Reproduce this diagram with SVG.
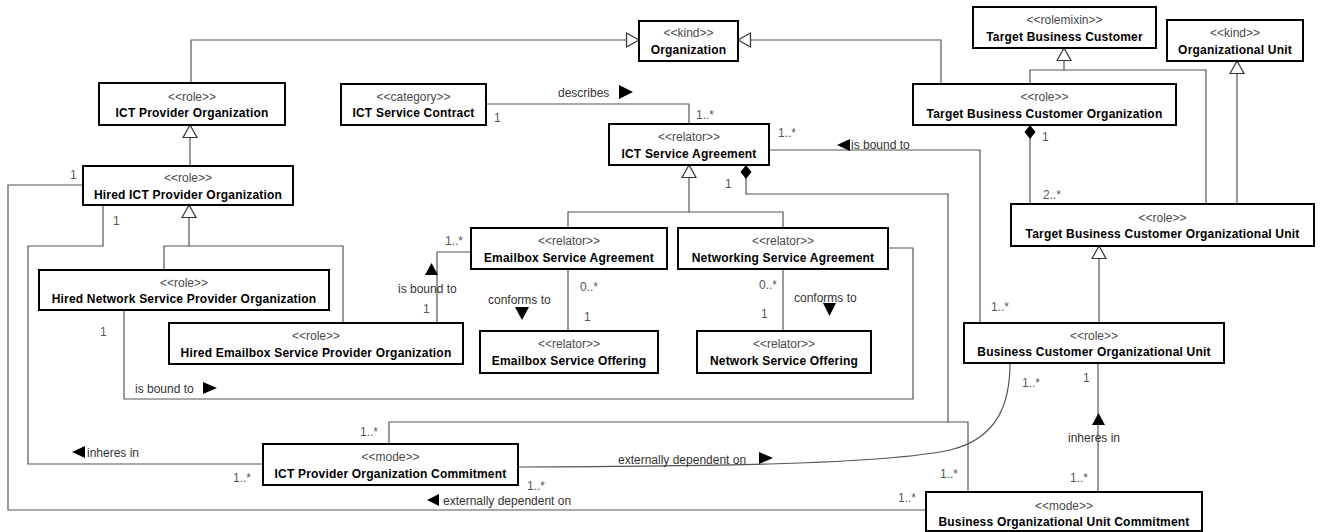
<svg xmlns="http://www.w3.org/2000/svg" width="1322" height="532" viewBox="0 0 1322 532">
  <style>
    .box { fill: #ffffff; stroke: #000000; stroke-width: 2; }
    .st { font-family: "Liberation Sans", Arial, sans-serif; font-size: 12px; fill: #4a4a4a; text-anchor: middle; }
    .nm { font-family: "Liberation Sans", Arial, sans-serif; font-size: 12px; font-weight: bold; fill: #000000; text-anchor: middle; letter-spacing: 0.2px; }
    .ln { fill: none; stroke: #555555; stroke-width: 1.2; }
    .lbl { font-family: "Liberation Sans", Arial, sans-serif; font-size: 12px; fill: #333333; }
    .mul { font-family: "Liberation Sans", Arial, sans-serif; font-size: 12px; fill: #555555; }
    .dir { fill: #000000; }
  </style>
  <defs>
    <marker id="gen" markerUnits="userSpaceOnUse" markerWidth="14" markerHeight="16" refX="12.5" refY="7" orient="auto" overflow="visible">
      <path d="M0,0 L12.5,7 L0,14 z" fill="#ffffff" stroke="#333333" stroke-width="1.2"/>
    </marker>
    <marker id="comp" markerUnits="userSpaceOnUse" markerWidth="16" markerHeight="12" refX="0" refY="5.5" orient="auto" overflow="visible">
      <path d="M0,5.5 L7,0 L14,5.5 L7,11 z" fill="#000000"/>
    </marker>
  </defs>

  <rect width="1322" height="532" fill="#ffffff"/>

  <!-- connectors -->
  <g id="connectors">
    <!-- generalizations -->
    <path class="ln" d="M191,83 V40 H639" marker-end="url(#gen)"/>
    <path class="ln" d="M941,84 V40 H738" marker-end="url(#gen)"/>
    <path class="ln" d="M190,166 V125" marker-end="url(#gen)"/>
    <path class="ln" d="M164,270 V246 H343 V323"/>
    <path class="ln" d="M189,246 V205" marker-end="url(#gen)"/>
    <path class="ln" d="M568,228 V212 H783 V228"/>
    <path class="ln" d="M689,212 V165" marker-end="url(#gen)"/>
    <path class="ln" d="M1030,84 V70 H1206 V204"/>
    <path class="ln" d="M1064,70 V48" marker-end="url(#gen)"/>
    <path class="ln" d="M1237,204 V61" marker-end="url(#gen)"/>
    <path class="ln" d="M1099,323 V246" marker-end="url(#gen)"/>

    <!-- compositions -->
    <path class="ln" d="M746,165 V194 H948 V422 H389 V444" marker-start="url(#comp)"/>
    <path class="ln" d="M948,422 H968 V492"/>
    <path class="ln" d="M1030,125 V204" marker-start="url(#comp)"/>

    <!-- associations -->
    <path class="ln" d="M486,104 H689 V124"/>
    <path class="ln" d="M769,150 H980 V323"/>
    <path class="ln" d="M471,252 H437 V323"/>
    <path class="ln" d="M568,269 V331"/>
    <path class="ln" d="M783,269 V331"/>
    <path class="ln" d="M888,248 H913 V399 H124 V310"/>
    <path class="ln" d="M103,205 V246 H28 V464 H263"/>
    <path class="ln" d="M83,185 H8 V510 H926"/>
    <path class="ln" d="M518,467 C700,466 880,465 950,450 C1000,438 1010,400 1010,363"/>
    <path class="ln" d="M1098,492 V363"/>

    <!-- reading-direction arrows -->
    <path class="dir" d="M619,85 L633,92 L619,99 z"/>
    <path class="dir" d="M850,139 L837,145 L850,151 z"/>
    <path class="dir" d="M431.5,263 L425,275 L438,275 z"/>
    <path class="dir" d="M515,307 L529,307 L522,320 z"/>
    <path class="dir" d="M823,303 L836,303 L829.5,316 z"/>
    <path class="dir" d="M203,382 L217,388 L203,394 z"/>
    <path class="dir" d="M85,446 L72,452 L85,458 z"/>
    <path class="dir" d="M759,452 L773,458 L759,464 z"/>
    <path class="dir" d="M439,494 L427,500 L439,506 z"/>
    <path class="dir" d="M1098.5,413 L1092,425 L1105,425 z"/>

    <!-- association names -->
    <text class="lbl" x="558" y="97">describes</text>
    <text class="lbl" x="851" y="149">is bound to</text>
    <text class="lbl" x="398" y="293">is bound to</text>
    <text class="lbl" x="488" y="304">conforms to</text>
    <text class="lbl" x="794" y="302">conforms to</text>
    <text class="lbl" x="135" y="393">is bound to</text>
    <text class="lbl" x="87" y="457">inheres in</text>
    <text class="lbl" x="618" y="464">externally dependent on</text>
    <text class="lbl" x="443" y="505">externally dependent on</text>
    <text class="lbl" x="1068" y="442">inheres in</text>

    <!-- multiplicities -->
    <text class="mul" x="494" y="122">1</text>
    <text class="mul" x="696" y="119">1..*</text>
    <text class="mul" x="778" y="137">1..*</text>
    <text class="mul" x="1042" y="141">1</text>
    <text class="mul" x="1043" y="199">2..*</text>
    <text class="mul" x="991" y="311">1..*</text>
    <text class="mul" x="725" y="188">1</text>
    <text class="mul" x="445" y="245">1..*</text>
    <text class="mul" x="423" y="313">1</text>
    <text class="mul" x="580" y="291">0..*</text>
    <text class="mul" x="584" y="321">1</text>
    <text class="mul" x="759" y="289">0..*</text>
    <text class="mul" x="761" y="318">1</text>
    <text class="mul" x="100" y="336">1</text>
    <text class="mul" x="113" y="225">1</text>
    <text class="mul" x="70" y="179">1</text>
    <text class="mul" x="360" y="436">1..*</text>
    <text class="mul" x="233" y="482">1..*</text>
    <text class="mul" x="527" y="490">1..*</text>
    <text class="mul" x="1022" y="387">1..*</text>
    <text class="mul" x="1083" y="382">1</text>
    <text class="mul" x="1070" y="482">1..*</text>
    <text class="mul" x="940" y="478">1..*</text>
    <text class="mul" x="898" y="502">1..*</text>
  </g>

  <!-- classes -->
  <g id="organization">
    <rect class="box" x="639" y="21" width="99" height="40"/>
    <text class="st" x="688.5" y="37">&lt;&lt;kind&gt;&gt;</text>
    <text class="nm" x="688.5" y="54">Organization</text>
  </g>
  <g id="ict-provider-organization">
    <rect class="box" x="99" y="83" width="186" height="42"/>
    <text class="st" x="192" y="101">&lt;&lt;role&gt;&gt;</text>
    <text class="nm" x="192" y="117">ICT Provider Organization</text>
  </g>
  <g id="ict-service-contract">
    <rect class="box" x="341" y="84" width="145" height="41"/>
    <text class="st" x="413.5" y="101">&lt;&lt;category&gt;&gt;</text>
    <text class="nm" x="413.5" y="117">ICT Service Contract</text>
  </g>
  <g id="ict-service-agreement">
    <rect class="box" x="609" y="124" width="160" height="41"/>
    <text class="st" x="689" y="141">&lt;&lt;relator&gt;&gt;</text>
    <text class="nm" x="689" y="158">ICT Service Agreement</text>
  </g>
  <g id="target-business-customer">
    <rect class="box" x="973" y="7" width="183" height="41"/>
    <text class="st" x="1064.5" y="24">&lt;&lt;rolemixin&gt;&gt;</text>
    <text class="nm" x="1064.5" y="41">Target Business Customer</text>
  </g>
  <g id="organizational-unit">
    <rect class="box" x="1167" y="20" width="136" height="41"/>
    <text class="st" x="1235" y="37">&lt;&lt;kind&gt;&gt;</text>
    <text class="nm" x="1235" y="54">Organizational Unit</text>
  </g>
  <g id="target-business-customer-organization">
    <rect class="box" x="913" y="84" width="263" height="41"/>
    <text class="st" x="1044.5" y="101">&lt;&lt;role&gt;&gt;</text>
    <text class="nm" x="1044.5" y="118">Target Business Customer Organization</text>
  </g>
  <g id="hired-ict-provider-organization">
    <rect class="box" x="83" y="166" width="210" height="39"/>
    <text class="st" x="188" y="182">&lt;&lt;role&gt;&gt;</text>
    <text class="nm" x="188" y="199">Hired ICT Provider Organization</text>
  </g>
  <g id="target-business-customer-organizational-unit">
    <rect class="box" x="1011" y="204" width="303" height="42"/>
    <text class="st" x="1162.5" y="222">&lt;&lt;role&gt;&gt;</text>
    <text class="nm" x="1162.5" y="238">Target Business Customer Organizational Unit</text>
  </g>
  <g id="hired-network-service-provider-organization">
    <rect class="box" x="39" y="270" width="290" height="40"/>
    <text class="st" x="184" y="287">&lt;&lt;role&gt;&gt;</text>
    <text class="nm" x="184" y="303">Hired Network Service Provider Organization</text>
  </g>
  <g id="emailbox-service-agreement">
    <rect class="box" x="471" y="228" width="196" height="41"/>
    <text class="st" x="569" y="245">&lt;&lt;relator&gt;&gt;</text>
    <text class="nm" x="569" y="262">Emailbox Service Agreement</text>
  </g>
  <g id="networking-service-agreement">
    <rect class="box" x="678" y="228" width="210" height="41"/>
    <text class="st" x="783" y="245">&lt;&lt;relator&gt;&gt;</text>
    <text class="nm" x="783" y="262">Networking Service Agreement</text>
  </g>
  <g id="hired-emailbox-service-provider-organization">
    <rect class="box" x="169" y="323" width="294" height="41"/>
    <text class="st" x="316" y="340">&lt;&lt;role&gt;&gt;</text>
    <text class="nm" x="316" y="357">Hired Emailbox Service Provider Organization</text>
  </g>
  <g id="emailbox-service-offering">
    <rect class="box" x="480" y="331" width="178" height="42"/>
    <text class="st" x="569" y="348">&lt;&lt;relator&gt;&gt;</text>
    <text class="nm" x="569" y="365">Emailbox Service Offering</text>
  </g>
  <g id="network-service-offering">
    <rect class="box" x="697" y="331" width="174" height="42"/>
    <text class="st" x="784" y="348">&lt;&lt;relator&gt;&gt;</text>
    <text class="nm" x="784" y="365">Network Service Offering</text>
  </g>
  <g id="business-customer-organizational-unit">
    <rect class="box" x="964" y="323" width="260" height="40"/>
    <text class="st" x="1094" y="340">&lt;&lt;role&gt;&gt;</text>
    <text class="nm" x="1094" y="356">Business Customer Organizational Unit</text>
  </g>
  <g id="ict-provider-organization-commitment">
    <rect class="box" x="263" y="444" width="255" height="41"/>
    <text class="st" x="390.5" y="461">&lt;&lt;mode&gt;&gt;</text>
    <text class="nm" x="390.5" y="478">ICT Provider Organization Commitment</text>
  </g>
  <g id="business-organizational-unit-commitment">
    <rect class="box" x="926" y="492" width="276" height="39"/>
    <text class="st" x="1064" y="510">&lt;&lt;mode&gt;&gt;</text>
    <text class="nm" x="1064" y="526">Business Organizational Unit Commitment</text>
  </g>
</svg>
